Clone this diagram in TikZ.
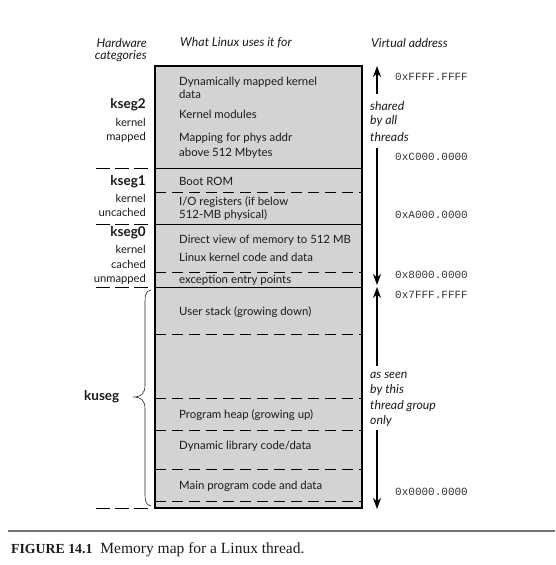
\documentclass[tikz,border=0pt]{standalone}
\usepackage{fontspec}
\setmainfont{Lato}
\newfontfamily\monof{Liberation Mono}
\newfontfamily\seriff{Liberation Serif}
\usetikzlibrary{arrows.meta}
\definecolor{boxgray}{HTML}{D3D3D3}
\definecolor{txt}{HTML}{1A1A1A}
\tikzset{
  x=1pt,y=-1pt,
  intxt/.style={anchor=west,inner sep=0pt,font=\fontsize{11.4}{13}\selectfont,text=txt},
  lbl/.style={anchor=east,inner sep=0pt,font=\fontsize{11.2}{13}\selectfont,text=txt},
  seg/.style={anchor=east,inner sep=0pt,font=\fontsize{13.5}{15}\selectfont\bfseries,text=txt},
  hdr/.style={inner sep=0pt,font=\fontsize{12.3}{14}\selectfont\itshape,text=txt},
  addr/.style={anchor=west,inner sep=0pt,font=\fontsize{11}{12}\monof,text=black!80},
  rtxt/.style={anchor=west,inner sep=0pt,font=\fontsize{12.3}{14}\selectfont\itshape,text=txt},
  dline/.style={line width=1pt,dash pattern=on 11pt off 6pt},
  sline/.style={line width=1pt},
  lmark/.style={line width=1pt,dash pattern=on 14pt off 5pt},
  varrow/.style={line width=2pt,-{Stealth[length=11pt,width=8pt]}},
}
\begin{document}
\begin{tikzpicture}
\useasboundingbox (0,0) rectangle (555,565);
% box
\filldraw[fill=boxgray,draw=black,line width=1.5pt] (155,66) rectangle (362,508);
\coordinate (L1) at (155,168); \coordinate (R1) at (362,168);
\coordinate (L2) at (155,192); \coordinate (R2) at (362,192);
\coordinate (L3) at (155,224); \coordinate (R3) at (362,224);
\coordinate (L4) at (155,272); \coordinate (R4) at (362,272);
\coordinate (L5) at (155,287); \coordinate (R5) at (362,287);
\coordinate (L6) at (155,334); \coordinate (R6) at (362,334);
\coordinate (L7) at (155,398); \coordinate (R7) at (362,398);
\coordinate (L8) at (155,430); \coordinate (R8) at (362,430);
\coordinate (L9) at (155,469); \coordinate (R9) at (362,469);
\coordinate (L10) at (155,501); \coordinate (R10) at (362,501);
\draw[sline] (L1) -- (R1);
\draw[dline] (L2) -- (R2);
\draw[sline] (L3) -- (R3);
\draw[dline] (L4) -- (R4);
\draw[sline] (L5) -- (R5);
\draw[dline] (L6) -- (R6);
\draw[dline] (L7) -- (R7);
\draw[dline] (L8) -- (R8);
\draw[dline] (L9) -- (R9);
\draw[dline] (L10) -- (R10);
% left marks
\coordinate (m1a) at (96,168); \coordinate (m1b) at (152,168);
\coordinate (m2a) at (96,224); \coordinate (m2b) at (152,224);
\coordinate (m3a) at (96,287); \coordinate (m3b) at (152,287);
\coordinate (m4a) at (96,508); \coordinate (m4b) at (152,508);
\draw[lmark] (m1a) -- (m1b);
\draw[lmark] (m2a) -- (m2b);
\draw[lmark] (m3a) -- (m3b);
\draw[lmark] (m4a) -- (m4b);
% headers
\node[hdr,anchor=east] (h1) at (147,43) {Hardware};
\node[hdr,anchor=east] (h2) at (147,56) {categories};
\node[hdr,anchor=west] (h3) at (180,43) {What Linux uses it for};
\node[hdr,anchor=west] (h4) at (371,43) {Virtual address};
% box texts
\node[intxt] (t1) at (179,82) {Dynamically mapped kernel};
\node[intxt] (t2) at (179,94) {data};
\node[intxt] (t3) at (179,114) {Kernel modules};
\node[intxt] (t4) at (179,138) {Mapping for phys addr};
\node[intxt] (t5) at (179,153) {above 512 Mbytes};
\node[intxt] (t6) at (179,181) {Boot ROM};
\node[intxt] (t7) at (179,202) {I/O registers (if below};
\node[intxt] (t8) at (179,215) {512-MB physical)};
\node[intxt] (t9) at (179,240) {Direct view of memory to 512 MB};
\node[intxt] (t10) at (179,257) {Linux kernel code and data};
\node[intxt] (t11) at (179,280) {exception entry points};
\node[intxt] (t12) at (179,312) {User stack (growing down)};
\node[intxt] (t13) at (179,415) {Program heap (growing up)};
\node[intxt] (t14) at (179,446) {Dynamic library code/data};
\node[intxt] (t15) at (179,486) {Main program code and data};
% left labels
\node[seg] (k2) at (146,105) {kseg2};
\node[lbl] (k2a) at (146,122) {kernel};
\node[lbl] (k2b) at (146,137) {mapped};
\node[seg] (k1) at (146,182) {kseg1};
\node[lbl] (k1a) at (146,198) {kernel};
\node[lbl] (k1b) at (146,212) {uncached};
\node[seg] (k0) at (146,233) {kseg0};
\node[lbl] (k0a) at (146,249) {kernel};
\node[lbl] (k0b) at (146,264) {cached};
\node[lbl] (k0c) at (146,279) {unmapped};
\node[seg,anchor=west] (ku) at (84,397) {kuseg};
% brace
\coordinate (bt) at (151,290);
\coordinate (bb) at (151,506);
\coordinate (btip) at (133,397);
\draw[line width=0.6pt,black!85] (bt) .. controls (145,291) and (145,296) .. (145,305)
  -- (145,385) .. controls (145,394) and (141,397) .. (btip)
  .. controls (141,397) and (145,400) .. (145,409)
  -- (145,491) .. controls (145,500) and (145,505) .. (bb);
% right arrows
\coordinate (a1s) at (377,94); \coordinate (a1e) at (377,66);
\coordinate (a2s) at (377,148); \coordinate (a2e) at (377,285);
\coordinate (a3s) at (377,366); \coordinate (a3e) at (377,287);
\coordinate (a4s) at (377,430); \coordinate (a4e) at (377,509);
\draw[varrow] (a1s) -- (a1e);
\draw[varrow] (a2s) -- (a2e);
\draw[varrow] (a3s) -- (a3e);
\draw[varrow] (a4s) -- (a4e);
% addresses
\node[addr] (ad1) at (395,77) {0xFFFF.FFFF};
\node[addr] (ad2) at (395,157) {0xC000.0000};
\node[addr] (ad3) at (395,215) {0xA000.0000};
\node[addr] (ad4) at (395,275) {0x8000.0000};
\node[addr] (ad5) at (395,295) {0x7FFF.FFFF};
\node[addr] (ad6) at (395,492) {0x0000.0000};
% right texts
\node[rtxt] (r1) at (370,106) {shared};
\node[rtxt] (r2) at (370,121) {by all};
\node[rtxt] (r3) at (370,137) {threads};
\node[rtxt] (r4) at (370,375) {as seen};
\node[rtxt] (r5) at (370,390) {by this};
\node[rtxt] (r6) at (370,406) {thread group};
\node[rtxt] (r7) at (370,421) {only};
% caption
\coordinate (c1) at (8,531); \coordinate (c2) at (555,531);
\draw[line width=1.5pt,black!55] (c1) -- (c2);
\node[anchor=base west,inner sep=0pt,font=\fontsize{15.5}{17}\seriff,text=txt] (cap) at (11,553) {{\fontsize{13.8}{17}\selectfont\bfseries FIGURE 14.1}\hspace{8pt}Memory map for a Linux thread.};
\end{tikzpicture}
\end{document}
